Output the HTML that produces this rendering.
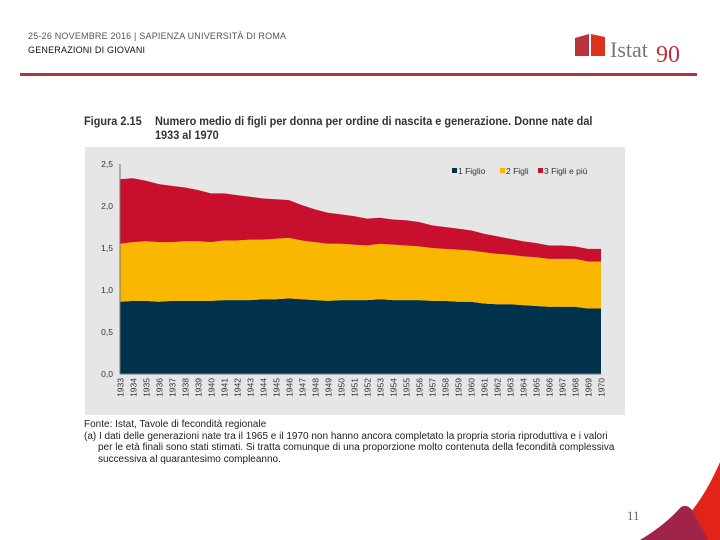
<!DOCTYPE html>
<html><head><meta charset="utf-8"><style>
body{margin:0;width:720px;height:540px;background:#fff;position:relative;overflow:hidden;font-family:"Liberation Sans",sans-serif}
.hdr{position:absolute;left:28px;font-size:9px;color:#333;letter-spacing:0.2px}
</style></head><body>
<div class="hdr" style="top:31px;color:#555">25-26 NOVEMBRE 2016 | SAPIENZA UNIVERSITÀ DI ROMA</div>
<div class="hdr" style="top:45px;color:#111">GENERAZIONI DI GIOVANI</div>
<div style="position:absolute;left:20px;top:73px;width:677px;height:3px;background:#b3343c"></div>
<svg style="position:absolute;left:570px;top:30px" width="125" height="42">
<path d="M5 8 L19 4 L19 26 L5 26Z" fill="#b8313c"/><path d="M21 4 L35 7 L35 26 L21 26Z" fill="#d9331e"/>
<text x="40" y="27" font-family="Liberation Serif,serif" font-size="22" fill="#777">Istat</text>
<text x="86" y="32" font-family="Liberation Serif,serif" font-size="24" fill="#b8313c">90</text>
</svg>
<div style="position:absolute;left:84px;top:114px;font-size:12px;font-weight:bold;color:#333;line-height:14px;white-space:nowrap;transform:scaleX(0.91);transform-origin:0 0"><span style="display:inline-block;width:78px">Figura 2.15</span>Numero medio di figli per donna per ordine di nascita e generazione. Donne nate dal<br><span style="display:inline-block;width:78px"></span>1933 al 1970</div>
<svg id="chart" style="position:absolute;left:85px;top:147px" width="540" height="268"></svg>
<div style="position:absolute;left:84px;top:419px;font-size:10px;color:#222;line-height:11.5px;white-space:nowrap;transform:scaleX(1.0);transform-origin:0 0">Fonte: Istat, Tavole di fecondità regionale<br>(a) I dati delle generazioni nate tra il 1965 e il 1970 non hanno ancora completato la propria storia riproduttiva e i valori<br><span style="padding-left:14px">per le età finali sono stati stimati. Si tratta comunque di una proporzione molto contenuta della fecondità complessiva</span><br><span style="padding-left:14px">successiva al quarantesimo compleanno.</span></div>
<svg style="position:absolute;left:600px;top:440px" width="120" height="100">
<path d="M120 22 Q95 80 58 100 L120 100Z" fill="#e2231a"/>
<path d="M40 100 Q65 85 80 68 Q86 63 92 70 Q100 85 108 100Z" fill="#a0244a"/>
</svg>
<div style="position:absolute;left:627px;top:508px;font-family:'Liberation Serif',serif;font-size:13px;color:#666">11</div>
<script>
const years=[];for(let y=1933;y<=1970;y++)years.push(String(y));
const first=[0.86,0.87,0.87,0.86,0.87,0.87,0.87,0.87,0.88,0.88,0.88,0.89,0.89,0.90,0.89,0.88,0.87,0.88,0.88,0.88,0.89,0.88,0.88,0.88,0.87,0.87,0.86,0.86,0.84,0.83,0.83,0.82,0.81,0.80,0.80,0.80,0.78,0.78];
const second=[0.69,0.70,0.71,0.71,0.70,0.71,0.71,0.70,0.71,0.71,0.72,0.71,0.72,0.72,0.70,0.69,0.68,0.67,0.66,0.65,0.66,0.66,0.65,0.64,0.63,0.62,0.62,0.61,0.61,0.60,0.59,0.58,0.58,0.57,0.57,0.57,0.56,0.56];
const third=[0.77,0.76,0.72,0.69,0.67,0.64,0.61,0.58,0.56,0.54,0.51,0.49,0.47,0.45,0.42,0.39,0.37,0.35,0.34,0.32,0.31,0.30,0.30,0.29,0.27,0.26,0.25,0.24,0.22,0.21,0.19,0.18,0.17,0.16,0.16,0.15,0.15,0.15];
const yTicks=[0,0.5,1,1.5,2,2.5];
const yTickLabels=["0,0","0,5","1,0","1,5","2,0","2,5"];
const seriesNames=["1 Figlio","2 Figli","3 Figli e più"];
const colors=["#00324b","#f9b700","#c8102e"];
const NS="http://www.w3.org/2000/svg",svg=document.getElementById('chart');
const X0=35,X1=516,Y0=227,Y1=17;
const xs=i=>X0+(X1-X0)*i/(years.length-1);
const ys=v=>Y0-(Y0-Y1)*v/2.5;
function mk(t,a){const e=document.createElementNS(NS,t);for(const k in a)e.setAttribute(k,a[k]);svg.appendChild(e);return e;}
const bg=mk('rect',{x:0,y:0,width:540,height:268,fill:'#e6e6e6'});


const series=[first,second,third];
let base=years.map(()=>0);
series.forEach((s,k)=>{
  const top=base.map((b,i)=>b+s[i]);
  let d='M'+years.map((_,i)=>xs(i)+','+ys(top[i])).join(' L');
  for(let i=years.length-1;i>=0;i--)d+=' L'+xs(i)+','+ys(base[i]);
  const p=mk('path',{d:d+'Z',fill:colors[k]});
  
  
  base=top;
});
mk('line',{x1:X0,y1:Y1,x2:X0,y2:Y0,stroke:'#777','stroke-width':1});
mk('line',{x1:X0,y1:Y0,x2:X1,y2:Y0,stroke:'#777','stroke-width':1});
yTicks.forEach((v,i)=>{
  const t=mk('text',{x:X0-7,y:ys(v)+3,'text-anchor':'end','font-size':8.5,fill:'#333'});
  t.textContent=yTickLabels[i];
  
  
});
years.forEach((y,i)=>{
  const t=mk('text',{transform:`translate(${xs(i)+3.5},${Y0+4}) rotate(-90)`,'text-anchor':'end','font-size':8.5,fill:'#333'});
  t.textContent=y;
  
  
});
const lx=[367,415,453];
seriesNames.forEach((n,k)=>{
  mk('rect',{x:lx[k],y:21,width:5,height:5,fill:colors[k]});
  const t=mk('text',{x:lx[k]+6,y:27,'font-size':8.5,fill:'#333'});
  t.textContent=n;
  
  
});
</script>
</body></html>
